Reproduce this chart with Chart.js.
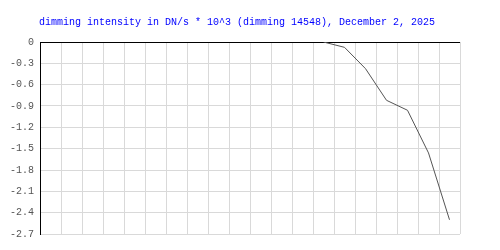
<!DOCTYPE html>
<html>
<head>
<meta charset="utf-8">
<script src="https://cdn.jsdelivr.net/npm/chart.js@4"></script>
<style>
  html, body { margin: 0; padding: 0; background: #fff; }
  #wrap { position: relative; width: 500px; height: 250px; }
  #title { position: absolute; left: 39px; top: 16px; font: 10px "Liberation Mono", monospace; color: #0000ff; white-space: pre; line-height: 14px; }
</style>
</head>
<body>
<div id="wrap">
  <canvas id="c" width="500" height="250"></canvas>
  <div id="title">dimming intensity in DN/s * 10^3 (dimming 14548), December 2, 2025</div>
</div>
<script>
const categories = ['1','2','3','4','5','6','7','8','9','10','11','12','13','14','15','16','17','18','19','20'];
const intensity = [null,null,null,null,null,null,null,null,null,null,null,null,null,0,-0.075,-0.375,-0.82,-0.96,-1.56,-2.50];
const yTicks = [0,-0.3,-0.6,-0.9,-1.2,-1.5,-1.8,-2.1,-2.4,-2.7];

new Chart(document.getElementById('c'), {
  type: 'line',
  data: {
    labels: categories,
    datasets: [{
      data: intensity,
      borderColor: '#555555',
      borderWidth: 1,
      pointRadius: 0,
      tension: 0,
      fill: false
    }]
  },
  options: {
    responsive: false,
    animation: false,
    layout: { padding: { top: 42, right: 40, bottom: 16, left: 0 } },
    plugins: { legend: { display: false }, title: { display: false }, tooltip: { enabled: false } },
    scales: {
      x: {
        offset: true,
        grid: { color: '#d9d9d9', lineWidth: 1, offset: true, drawTicks: false },
        border: { display: false },
        ticks: { display: false }
      },
      y: {
        min: -2.7,
        max: 0,
        afterBuildTicks: (s) => { s.ticks = yTicks.map(v => ({ value: v })); },
        afterFit: (s) => { s.width = 40; },
        grid: {
          color: (ctx) => (ctx.tick && ctx.tick.value === 0) ? '#000000' : '#d9d9d9',
          lineWidth: 1,
          drawTicks: false
        },
        border: { display: true, color: '#000000', width: 1 },
        ticks: {
          padding: 6,
          color: '#555555',
          font: { family: '"Liberation Mono", monospace', size: 10 },
          callback: (v) => v === 0 ? '0' : Number(v).toFixed(1)
        }
      }
    }
  }
});
</script>
</body>
</html>
